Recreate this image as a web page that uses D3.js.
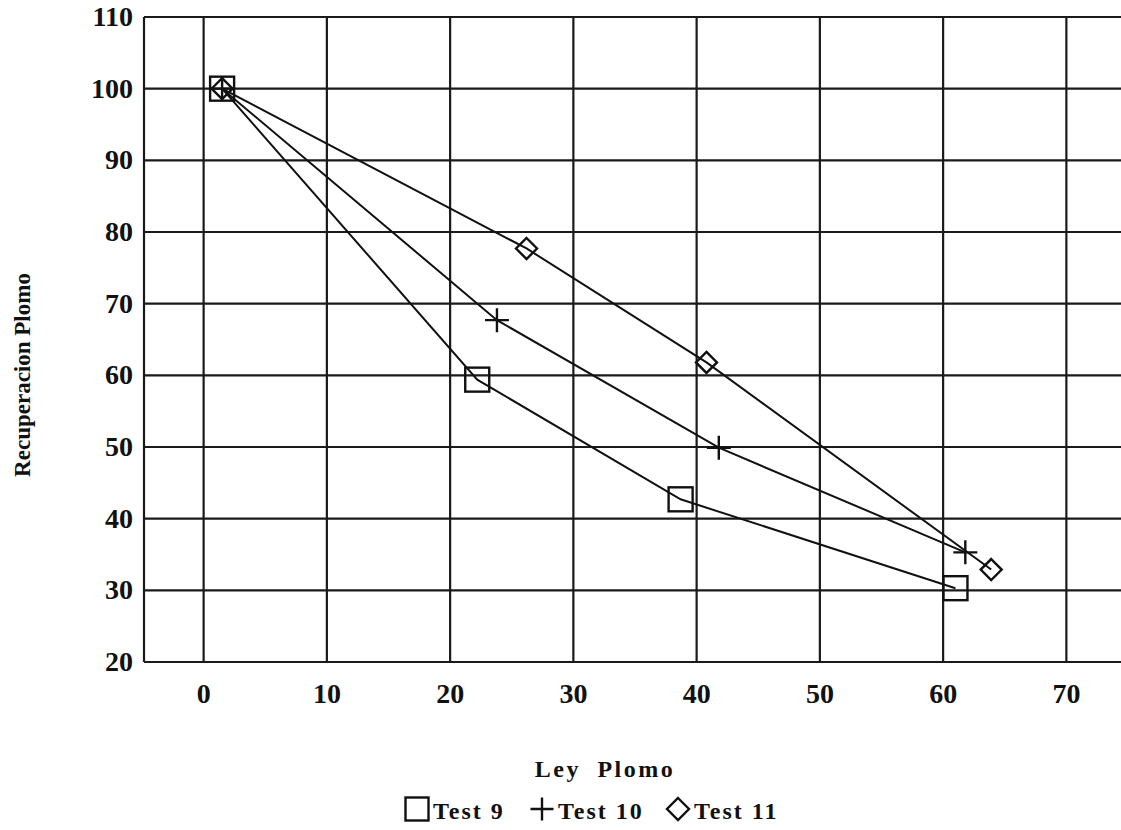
<!DOCTYPE html>
<html lang="es">
<head>
<meta charset="UTF-8">
<title>Recuperacion vs Ley Plomo</title>
<script src="https://d3js.org/d3.v7.min.js"></script>
<style>
  body { margin: 0; background: #fff; }
  svg { display: block; }
  .tick_lbl { font-family: "Liberation Serif", "DejaVu Serif", serif; font-weight: bold; font-size: 28px; fill: #111; }
  .axis_title { font-family: "Liberation Serif", "DejaVu Serif", serif; font-weight: bold; font-size: 24px; fill: #111; }
  .legend_text { font-family: "Liberation Serif", "DejaVu Serif", serif; font-weight: bold; font-size: 24px; fill: #111; letter-spacing: 2px; }
</style>
</head>
<body>
<svg width="1121" height="830"></svg>
<script>
  // data
  const xTicks = [0, 10, 20, 30, 40, 50, 60, 70];
  const yTicks = [20, 30, 40, 50, 60, 70, 80, 90, 100, 110];

  const test9_x = [1.5, 22.2, 38.7, 61.0];
  const test9_y = [100, 59.4, 42.7, 30.3];
  const test10_x = [1.5, 23.8, 41.8, 61.8];
  const test10_y = [100, 67.7, 49.9, 35.3];
  const test11_x = [1.5, 26.2, 40.8, 63.9];
  const test11_y = [100, 77.7, 61.8, 32.9];

  const seriesNames = ["Test 9", "Test 10", "Test 11"];

  let svg = d3.select("svg");

  let x = d3.scaleLinear().domain([-5, 75]).range([142, 1128]);
  let y = d3.scaleLinear().domain([20, 110]).range([662, 17]);

  // grid
  let grid = svg.append("g").attr("class", "grid");
  grid.selectAll("line.v")
      .data(xTicks)
      .enter()
      .append("line")
      .attr("x1", d => x(d)).attr("x2", d => x(d))
      .attr("y1", y(110)).attr("y2", y(20))
      .attr("stroke", "#1a1a1a").attr("stroke-width", 2.2);
  grid.selectAll("line.h")
      .data(yTicks)
      .enter()
      .append("line")
      .attr("x1", x(-5) + 2).attr("x2", 1121)
      .attr("y1", d => y(d)).attr("y2", d => y(d))
      .attr("stroke", "#1a1a1a").attr("stroke-width", 2.2);
  // left frame
  grid.append("line")
      .attr("x1", x(-5) + 2).attr("x2", x(-5) + 2)
      .attr("y1", y(110)).attr("y2", y(20))
      .attr("stroke", "#1a1a1a").attr("stroke-width", 2.2);

  // tick labels
  svg.append("g").selectAll("text")
      .data(xTicks)
      .enter()
      .append("text")
      .attr("class", "tick_lbl")
      .attr("x", d => x(d))
      .attr("y", y(20) + 41)
      .attr("text-anchor", "middle")
      .text(d => d);
  svg.append("g").selectAll("text")
      .data(yTicks)
      .enter()
      .append("text")
      .attr("class", "tick_lbl")
      .attr("x", x(-5) - 9)
      .attr("y", d => y(d) + 9)
      .attr("text-anchor", "end")
      .text(d => d);

  // axis titles
  svg.append("text").attr("class", "axis_title")
      .attr("x", 605).attr("y", 777)
      .attr("text-anchor", "middle")
      .style("letter-spacing", "2.5px")
      .style("word-spacing", "8px")
      .text("Ley Plomo");
  svg.append("text").attr("class", "axis_title")
      .attr("transform", "translate(30,375) rotate(-90)")
      .attr("text-anchor", "middle")
      .style("font-size", "23px")
      .text("Recuperacion Plomo");

  const line = d3.line().x(d => x(d[0])).y(d => y(d[1]));
  const series = [
      d3.zip(test9_x, test9_y),
      d3.zip(test10_x, test10_y),
      d3.zip(test11_x, test11_y)
  ];

  let plot = svg.append("g");
  plot.selectAll("path.ln")
      .data(series)
      .enter()
      .append("path")
      .attr("d", d => line(d))
      .attr("fill", "none")
      .attr("stroke", "#111")
      .attr("stroke-width", 2);

  // markers
  function drawMarker(g, type, cx, cy, s) {
      if (type === 0) {
          g.append("rect").attr("x", cx - s / 2).attr("y", cy - s / 2)
              .attr("width", s).attr("height", s)
              .attr("fill", "none").attr("stroke", "#111").attr("stroke-width", 2.4);
      } else if (type === 1) {
          g.append("path")
              .attr("d", `M${cx - s / 2},${cy}H${cx + s / 2}M${cx},${cy - s / 2}V${cy + s / 2}`)
              .attr("stroke", "#111").attr("stroke-width", 2.4);
      } else {
          let r = s / 2;
          g.append("path")
              .attr("d", `M${cx},${cy - r}L${cx + r},${cy}L${cx},${cy + r}L${cx - r},${cy}Z`)
              .attr("fill", "none").attr("stroke", "#111").attr("stroke-width", 2.4);
      }
  }

  series.forEach(function (pts, i) {
      pts.forEach(function (p) {
          drawMarker(plot, i, x(p[0]), y(p[1]), i === 2 ? 21 : 24);
      });
  });

  // legend
  let legend = svg.append("g");
  let lx = [405, 530, 666];
  seriesNames.forEach(function (name, i) {
      drawMarker(legend, i, lx[i] + 12, 809, i === 2 ? 22 : 23);
      legend.append("text").attr("class", "legend_text")
          .attr("x", lx[i] + 28).attr("y", 819)
          .text(name);
  });
</script>
</body>
</html>
